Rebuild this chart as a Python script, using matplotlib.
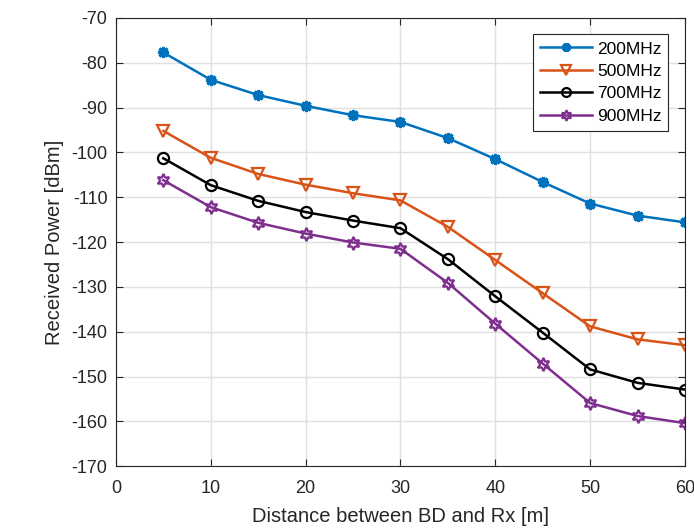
import numpy as np
import matplotlib
matplotlib.use("Agg")
import matplotlib.pyplot as plt

plt.rcParams['font.family'] = ['Liberation Sans', 'DejaVu Sans']
plt.rcParams['axes.unicode_minus'] = False

# distance [m]
dist = [5, 10, 15, 20, 25, 30, 35, 40, 45, 50, 55, 60]
# received power [dBm]
p200 = [-77.7, -83.8, -87.2, -89.6, -91.7, -93.2, -96.8, -101.5, -106.6, -111.4, -114.1, -115.6]
p500 = [-95.2, -101.2, -104.8, -107.2, -109.1, -110.7, -116.6, -124.0, -131.4, -138.8, -141.7, -143.0]
p700 = [-101.3, -107.3, -110.8, -113.3, -115.2, -116.9, -123.8, -132.1, -140.2, -148.4, -151.4, -152.9]
p900 = [-106.2, -112.2, -115.7, -118.1, -120.1, -121.5, -129.1, -138.2, -147.1, -155.9, -158.8, -160.4]
labels = ['200MHz', '500MHz', '700MHz', '900MHz']

fig = plt.figure(figsize=(6.94, 5.28), dpi=100)
ax = fig.add_axes([0.167, 0.117, 0.820, 0.849])

ax.plot(dist, p200, color='#0072BD', lw=1.8, marker=(8, 2, 0), ms=8, mew=2.2, label=labels[0])
ax.plot(dist, p500, color='#D95319', lw=1.8, marker='v', ms=8.5, mfc='none', mew=1.6, label=labels[1])
ax.plot(dist, p700, color='black', lw=1.8, marker='o', ms=8, mfc='none', mew=1.6, label=labels[2])
ax.plot(dist, p900, color='#7E2F8E', lw=1.8, marker=(6, 1, 0), ms=9.5, mfc='none', mew=1.6, label=labels[3])

ax.set_xlim(0, 60)
ax.set_ylim(-170, -70)
ax.set_xticks(np.arange(0, 61, 10))
ax.set_yticks(np.arange(-170, -69, 10))
ax.grid(True, color='#e0e0e0', lw=1)
ax.set_axisbelow(True)
ax.tick_params(direction='in', top=True, right=True, labelsize=13, length=5, colors='#262626')
ax.tick_params(axis='x', pad=10)
ax.tick_params(axis='y', pad=6)
for s in ax.spines.values():
    s.set_color('#262626')
ax.set_xlabel('Distance between BD and Rx [m]', fontsize=14.5, color='#262626', labelpad=7)
ax.set_ylabel('Received Power [dBm]', fontsize=14.5, color='#262626', labelpad=5)

leg = ax.legend(loc='upper right', fontsize=12.5, fancybox=False, edgecolor='#262626',
                framealpha=1, handlelength=3.0, handletextpad=0.3, borderaxespad=0.95,
                labelspacing=0.42, borderpad=0.4, markerscale=0.8)
leg.get_frame().set_linewidth(0.8)

fig.savefig('out.png', dpi=100)
